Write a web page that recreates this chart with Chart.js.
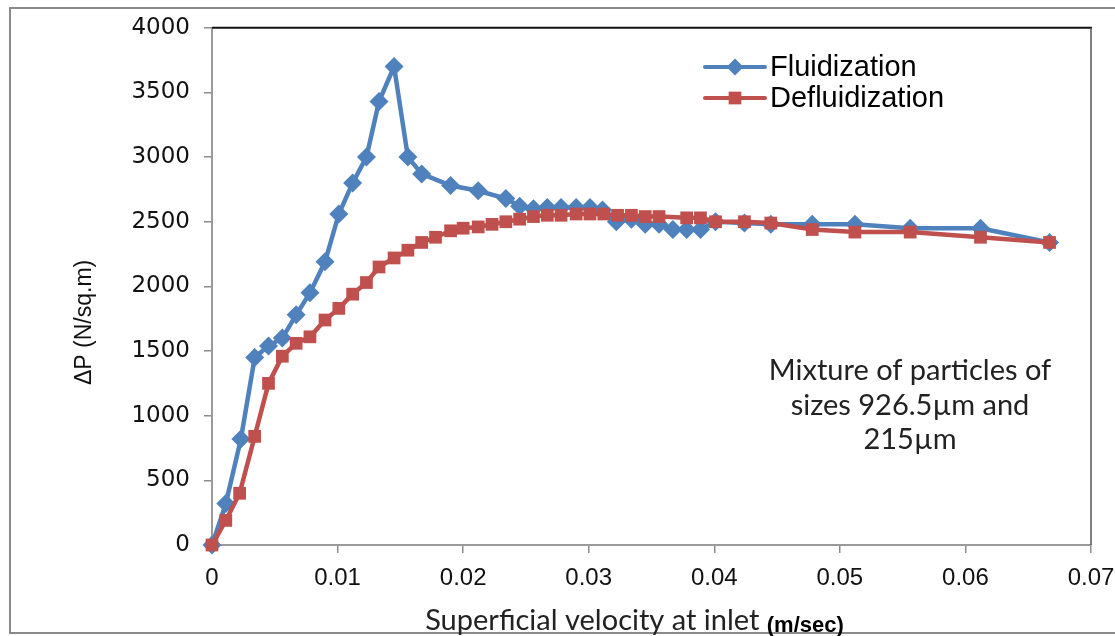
<!DOCTYPE html>
<html>
<head>
<meta charset="utf-8">
<script src="https://cdn.jsdelivr.net/npm/chart.js@4.4.0/dist/chart.umd.min.js"></script>
<style>
html, body { margin: 0; padding: 0; background: #fff; }
#wrap { width: 1115px; height: 636px; position: relative; }
</style>
</head>
<body>
<div id="wrap"><canvas id="grafico"></canvas></div>
<script>
// superficial velocity (m/s) and pressure drop (N/m2)
const velFluid = [0, 0.0011, 0.0023, 0.0034, 0.0045, 0.0056, 0.0067, 0.0078, 0.0090, 0.0101,
    0.0112, 0.0123, 0.0133, 0.0145, 0.0156, 0.0167, 0.0190, 0.0212, 0.0234, 0.0245,
    0.0256, 0.0267, 0.0278, 0.0290, 0.0301, 0.0311, 0.0322, 0.0334, 0.0345, 0.0356,
    0.0367, 0.0378, 0.0389, 0.0401, 0.0424, 0.0445, 0.0478, 0.0512, 0.0556, 0.0612, 0.0667];
const dpFluid = [0, 320, 820, 1450, 1540, 1600, 1780, 1950, 2190, 2560,
    2800, 3000, 3430, 3700, 3000, 2870, 2780, 2740, 2680, 2620,
    2600, 2610, 2610, 2610, 2610, 2590, 2500, 2520, 2480, 2480,
    2440, 2440, 2440, 2500, 2490, 2480, 2480, 2480, 2450, 2450, 2340];

const velDefluid = [0, 0.0011, 0.0022, 0.0034, 0.0045, 0.0056, 0.0067, 0.0078, 0.0090, 0.0101,
    0.0112, 0.0123, 0.0133, 0.0145, 0.0156, 0.0167, 0.0178, 0.0190, 0.0200, 0.0212,
    0.0223, 0.0234, 0.0245, 0.0256, 0.0267, 0.0278, 0.0290, 0.0301, 0.0312, 0.0323,
    0.0334, 0.0345, 0.0356, 0.0378, 0.0389, 0.0401, 0.0424, 0.0445, 0.0478, 0.0512,
    0.0556, 0.0612, 0.0667];
const dpDefluid = [0, 190, 400, 840, 1250, 1460, 1560, 1610, 1740, 1830,
    1940, 2030, 2150, 2220, 2280, 2340, 2380, 2430, 2450, 2460,
    2480, 2500, 2520, 2540, 2550, 2550, 2560, 2560, 2560, 2550,
    2550, 2540, 2540, 2530, 2530, 2500, 2500, 2490, 2440, 2420,
    2420, 2380, 2340];

const xTicks = [0, 0.01, 0.02, 0.03, 0.04, 0.05, 0.06, 0.07];
const yTicks = [0, 500, 1000, 1500, 2000, 2500, 3000, 3500, 4000];

const seriesNames = ['Fluidization', 'Defluidization'];
const xTitle = 'Superficial velocity at inlet';
const xUnit = '(m/sec)';
const yTitle = 'ΔP (N/sq.m)';
const noteLines = ['Mixture of particles of', 'sizes 926.5µm and', '215µm'];

const azul = '#4F81BD';
const vermelho = '#C0504D';

function toPoints(xs, ys) {
    return xs.map((x, i) => ({ x: x, y: ys[i] }));
}

function marcador(ctx, estilo, x, y, r) {
    ctx.beginPath();
    if (estilo === 'rectRot') {
        ctx.moveTo(x, y - r);
        ctx.lineTo(x + r, y);
        ctx.lineTo(x, y + r);
        ctx.lineTo(x - r, y);
    } else {
        const h = r * Math.SQRT1_2;
        ctx.rect(x - h, y - h, 2 * h, 2 * h);
    }
    ctx.closePath();
    ctx.fill();
}

// frame, legend, titles and the note box
const moldura = {
    id: 'moldura',
    beforeDraw(chart) {
        const ctx = chart.ctx;
        ctx.save();
        ctx.fillStyle = '#fff';
        ctx.fillRect(0, 0, chart.width, chart.height);
        ctx.strokeStyle = '#8a8a8a';
        ctx.lineWidth = 2;
        ctx.strokeRect(10, 8, chart.width + 20, 625);
        ctx.restore();
    },
    afterDraw(chart) {
        const ctx = chart.ctx;
        const a = chart.chartArea;
        ctx.save();

        ctx.strokeStyle = '#111';
        ctx.lineWidth = 2;
        ctx.beginPath();
        ctx.moveTo(a.left, a.top);
        ctx.lineTo(a.right + 1, a.top);
        ctx.stroke();
        ctx.strokeStyle = '#555';
        ctx.lineWidth = 1.5;
        ctx.beginPath();
        ctx.moveTo(a.right, a.top);
        ctx.lineTo(a.right, a.bottom);
        ctx.stroke();

        // legend
        chart.data.datasets.forEach((ds, i) => {
            const y = 67 + i * 31;
            ctx.strokeStyle = ds.borderColor;
            ctx.lineWidth = 4;
            ctx.lineCap = 'round';
            ctx.beginPath();
            ctx.moveTo(705, y);
            ctx.lineTo(765, y);
            ctx.stroke();
            ctx.fillStyle = ds.borderColor;
            marcador(ctx, ds.pointStyle, 735, y, ds.pointStyle === 'rectRot' ? 8.5 : 9);
            ctx.fillStyle = '#000';
            ctx.font = '29px "Liberation Sans", Arial, sans-serif';
            ctx.textAlign = 'left';
            ctx.textBaseline = 'middle';
            ctx.fillText(ds.label, 770, y + 1);
        });

        // note
        ctx.fillStyle = '#222';
        ctx.font = '29px Lato, "Open Sans", sans-serif';
        ctx.textAlign = 'center';
        ctx.textBaseline = 'alphabetic';
        noteLines.forEach((t, i) => ctx.fillText(t, 910, 380 + i * 34.5));

        // x axis title, two fonts
        ctx.font = '29px Lato, "Open Sans", sans-serif';
        const w1 = ctx.measureText(xTitle + ' ').width;
        ctx.font = 'bold 22px "Liberation Sans", Arial, sans-serif';
        const w2 = ctx.measureText(xUnit).width;
        const cx = (a.left + a.right) / 2 - 17;
        let x0 = cx - (w1 + w2) / 2;
        ctx.textAlign = 'left';
        ctx.fillStyle = '#222';
        ctx.font = '29px Lato, "Open Sans", sans-serif';
        ctx.fillText(xTitle + ' ', x0, 630);
        ctx.fillStyle = '#000';
        ctx.font = 'bold 22px "Liberation Sans", Arial, sans-serif';
        ctx.fillText(xUnit, x0 + w1, 632);

        // y axis title
        ctx.translate(a.left - 127, (a.top + a.bottom) / 2 + 36);
        ctx.rotate(-Math.PI / 2);
        ctx.textAlign = 'center';
        ctx.textBaseline = 'middle';
        ctx.font = '23px "Liberation Sans", Arial, sans-serif';
        ctx.fillStyle = '#111';
        ctx.fillText(yTitle, 0, 0);
        ctx.restore();
    }
};

const grafico = new Chart(document.getElementById('grafico'), {
    type: 'line',
    data: {
        datasets: [{
            label: seriesNames[0],
            data: toPoints(velFluid, dpFluid),
            borderColor: azul,
            backgroundColor: azul,
            pointBackgroundColor: azul,
            pointBorderColor: azul,
            borderWidth: 4.5,
            pointStyle: 'rectRot',
            pointRadius: 9.5,
            pointBorderWidth: 0,
            clip: false,
            order: 2
        }, {
            label: seriesNames[1],
            data: toPoints(velDefluid, dpDefluid),
            borderColor: vermelho,
            backgroundColor: vermelho,
            pointBackgroundColor: vermelho,
            pointBorderColor: vermelho,
            borderWidth: 4.5,
            pointStyle: 'rect',
            pointRadius: 9,
            pointBorderWidth: 0,
            clip: false,
            order: 1
        }]
    },
    options: {
        responsive: true,
        maintainAspectRatio: false,
        animation: false,
        layout: { padding: { left: 0, top: 26, right: 24, bottom: 0 } },
        plugins: {
            legend: { display: false },
            tooltip: { enabled: false }
        },
        scales: {
            x: {
                type: 'linear',
                min: 0,
                max: 0.07,
                afterBuildTicks: (s) => { s.ticks = xTicks.map(v => ({ value: v })); },
                afterFit: (s) => { s.height = 91; s.paddingLeft = 0; s.paddingRight = 0; },
                grid: { drawOnChartArea: false, tickLength: 8, color: '#8c8c8c', lineWidth: 1.5 },
                border: { color: '#9a9a9a', width: 2 },
                ticks: {
                    padding: 11,
                    color: '#111',
                    maxRotation: 0,
                    autoSkip: false,
                    font: { family: '"Liberation Sans", Arial, sans-serif', size: 24 },
                    callback: (v) => String(Math.round(v * 100) / 100)
                }
            },
            y: {
                min: 0,
                max: 4000,
                afterBuildTicks: (s) => { s.ticks = yTicks.map(v => ({ value: v })); },
                afterFit: (s) => { s.width = 212; },
                grid: { drawOnChartArea: false, tickLength: 8, color: '#8c8c8c', lineWidth: 1.5 },
                border: { color: '#9a9a9a', width: 2 },
                ticks: {
                    padding: 14,
                    color: '#111',
                    font: { family: '"DejaVu Sans", sans-serif', size: 23 },
                    callback: (v) => String(v)
                }
            }
        }
    },
    plugins: [moldura]
});
</script>
</body>
</html>
